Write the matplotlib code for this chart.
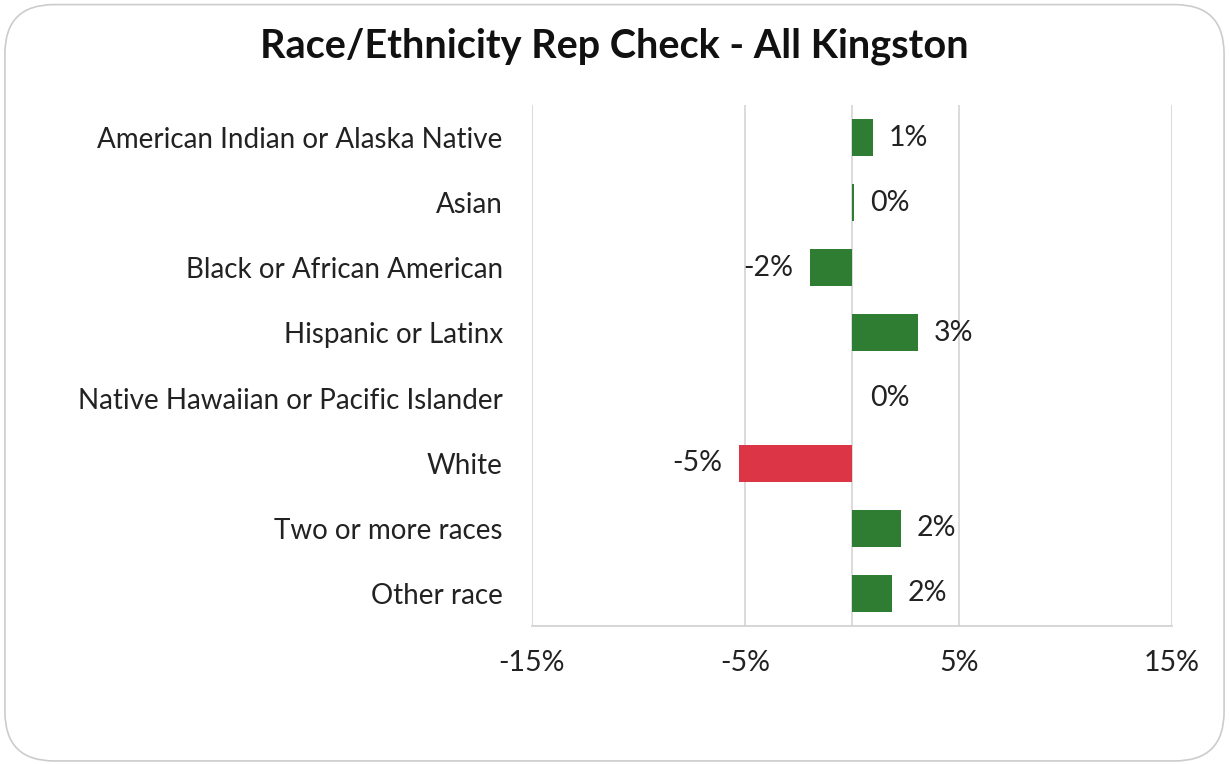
import matplotlib
matplotlib.use("Agg")
import matplotlib.pyplot as plt
from matplotlib.patches import FancyBboxPatch

categories = ["American Indian or Alaska Native", "Asian", "Black or African American",
              "Hispanic or Latinx", "Native Hawaiian or Pacific Islander", "White",
              "Two or more races", "Other race"]
values = [0.98, 0.1, -1.97, 3.1, 0.0, -5.3, 2.28, 1.86]
labels = ["1%", "0%", "-2%", "3%", "0%", "-5%", "2%", "2%"]
xticks = [-15, -5, 5, 15]
xticklabels = ["-15%", "-5%", "5%", "15%"]

plt.rcParams['font.family'] = ['Lato', 'DejaVu Sans']

fig = plt.figure(figsize=(12.29, 7.64), dpi=100)
border = FancyBboxPatch((0.004, 0.004), 0.992, 0.99, boxstyle="round,pad=0,rounding_size=0.04",
                        transform=fig.transFigure, facecolor="white", edgecolor="#cccccc",
                        linewidth=1.2, mutation_aspect=1229/764, zorder=-10)
fig.patches.append(border)

ax = fig.add_axes([532/1229, 1-626/764, (1172-532)/1229, (626-105)/764])
ax.set_facecolor("none")
colors = ["#dc3545" if v < -3 else "#2e7d32" for v in values]
y = list(range(len(categories)))
ax.barh(y, values, height=0.57, color=colors, zorder=3)
ax.set_ylim(len(categories)-0.5, -0.5)
ax.set_xlim(-15, 15)
ax.set_xticks(xticks)
ax.set_xticklabels(xticklabels, fontsize=20.5, color="#222222")
ax.set_yticks(y)
ax.set_yticklabels(categories, fontsize=20, color="#222222")
ax.tick_params(axis='both', length=0)
ax.tick_params(axis='y', pad=21)
ax.tick_params(axis='x', pad=17)
for s in ["top", "right", "left"]:
    ax.spines[s].set_visible(False)
ax.spines["bottom"].set_color("#cfcfcf")
ax.spines["bottom"].set_linewidth(1.2)
for xv in xticks + [0]:
    ax.axvline(xv, color="#d4d4d4", linewidth=1.2, zorder=1)

for yi, v, lab in zip(y, values, labels):
    if v >= 0:
        ax.text(max(v, 0.1) + 0.75, yi, lab, ha="left", va="center", fontsize=20.5, color="#222222")
    else:
        ax.text(v - 0.8, yi, lab, ha="right", va="center", fontsize=20.5, color="#222222")

fig.text(614/1229, 1-46/764, "Race/Ethnicity Rep Check - All Kingston", ha="center", va="center",
         fontsize=28.5, fontweight="bold", color="#111111")

fig.savefig("out.png", dpi=100, facecolor="white")
